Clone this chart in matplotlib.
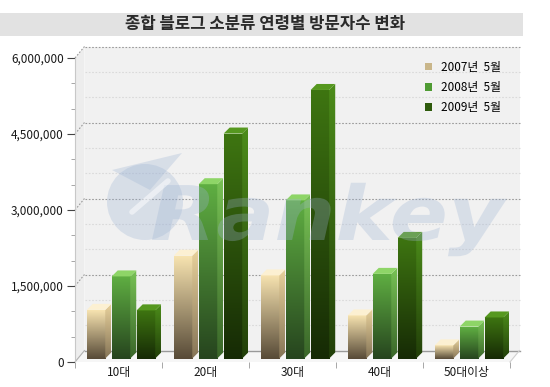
import numpy as np
import matplotlib.pyplot as plt
from matplotlib.patches import Polygon, Rectangle, Circle, Patch, PathPatch
from matplotlib.colors import LinearSegmentedColormap
from matplotlib.ticker import FuncFormatter, MultipleLocator
from matplotlib.textpath import TextPath
from matplotlib.font_manager import FontProperties
from matplotlib.transforms import Affine2D

plt.rcParams['font.family'] = ['Noto Sans CJK KR', 'DejaVu Sans']

title = '종합 블로그 소분류 연령별 방문자수 변화'
categories = ['10대', '20대', '30대', '40대', '50대이상']
series = ['2007년  5월', '2008년  5월', '2009년  5월']
v2007 = [960000, 2030000, 1640000, 850000, 260000]
v2008 = [1620000, 3440000, 3120000, 1670000, 630000]
v2009 = [950000, 4440000, 5300000, 2380000, 810000]
values = [v2007, v2008, v2009]
ymax = 6000000

# colours: (bottom, top) gradients for front and side faces, flat top face
front_cols = [('#574a37', '#f7e3b0'), ('#26441e', '#5fae42'), ('#162a05', '#3e7511')]
side_cols = [('#857456', '#e8d19c'), ('#3a6629', '#78c255'), ('#223f09', '#4c8c1a')]
top_cols = ['#fcf0d2', '#8ed567', '#56981f']
legend_cols = ['#c9b68a', '#4f9b33', '#2e5a0c']

W, H = 550, 387
fig = plt.figure(figsize=(5.5, 3.87), dpi=100)

# title band
fig.patches.append(Rectangle((0, 1 - 36 / H), 523 / W, 23 / H, transform=fig.transFigure,
                             fc='#e2e2e2', ec='none', zorder=0))
fig.text(265 / W, 1 - 24.5 / H, title, ha='center', va='center', fontsize=12,
         fontweight='bold', color='#2a2a2a')

# front plane of the 3d box, in pixels
L, R, B, T = 75, 510, 362, 58
ax = fig.add_axes([L / W, 1 - B / H, (R - L) / W, (B - T) / H])
ax.set_facecolor('none')
ux = 5 / (R - L)
uy = ymax / (B - T)

# walls
wx, wy = 9.5 * ux, 11.5 * uy
ax.add_patch(Polygon([(wx, wy), (5 + wx, wy), (5 + wx, ymax + wy), (wx, ymax + wy)],
                     fc='#f1f1f1', ec='none', zorder=0, clip_on=False))
ax.add_patch(Polygon([(0, 0), (wx, wy), (wx, ymax + wy), (0, ymax)],
                     fc='#ededed', ec='none', zorder=0, clip_on=False))
ax.add_patch(Polygon([(0, 0), (5, 0), (5 + wx, wy), (wx, wy)],
                     fc='#f6f6f6', ec='none', zorder=0, clip_on=False))
ax.plot([wx, 5 + wx], [wy, wy], color='#9a9a9a', lw=1, zorder=0.6, clip_on=False)
ax.plot([0, wx], [0, wy], color='#b0b0b0', lw=0.8, zorder=0.6, clip_on=False)
ax.plot([5, 5 + wx], [0, wy], color='#d0d0d0', lw=0.8, zorder=0.6, clip_on=False)

for v in np.arange(500000, ymax + 1, 500000):
    major = v % 1500000 == 0
    c = '#9a9a9a' if major else '#dadada'
    ax.plot([wx, 5 + wx], [v + wy, v + wy], color=c, lw=0.8, ls=(0, (1.5, 1.5)),
            zorder=0.5, clip_on=False)
    if major:
        ax.plot([0, wx], [v, v + wy], color=c, lw=0.8, ls=(0, (1.5, 1.5)),
                zorder=0.5, clip_on=False)

# bars
gradient = np.linspace(0, 1, 256).reshape(-1, 1)
bw, pitch = 0.213, 0.287
bx, by = 3 * ux, 3.5 * uy
dx, dy = 6 * ux, 6 * uy
for s, vals in enumerate(values):
    cm_front = LinearSegmentedColormap.from_list('front%d' % s, front_cols[s])
    cm_side = LinearSegmentedColormap.from_list('side%d' % s, side_cols[s])
    for i, v in enumerate(vals):
        x0 = i + 0.5 + (s - 1) * pitch - 0.006 - bw / 2 + bx
        y0 = by
        front = Rectangle((x0, y0), bw, v, fc='none', ec='none')
        ax.add_patch(front)
        im = ax.imshow(gradient, extent=[x0, x0 + bw, y0, y0 + v], origin='lower',
                       cmap=cm_front, aspect='auto', zorder=3)
        im.set_clip_path(front)
        side = Polygon([(x0 + bw, y0), (x0 + bw + dx, y0 + dy), (x0 + bw + dx, y0 + v + dy),
                        (x0 + bw, y0 + v)], fc='none', ec='none')
        ax.add_patch(side)
        im = ax.imshow(gradient, extent=[x0 + bw, x0 + bw + dx, y0, y0 + v + dy], origin='lower',
                       cmap=cm_side, aspect='auto', zorder=3)
        im.set_clip_path(side)
        ax.add_patch(Polygon([(x0, y0 + v), (x0 + bw, y0 + v), (x0 + bw + dx, y0 + v + dy),
                              (x0 + dx, y0 + v + dy)], fc=top_cols[s], ec='none', zorder=3))

ax.set_xlim(0, 5)
ax.set_ylim(0, ymax)

# axes and ticks
for sp in ['top', 'right', 'bottom']:
    ax.spines[sp].set_visible(False)
ax.spines['left'].set_color('#c8c8c8')
ax.spines['left'].set_linewidth(0.8)
ax.yaxis.set_major_locator(MultipleLocator(1500000))
ax.yaxis.set_minor_locator(MultipleLocator(500000))
ax.yaxis.set_major_formatter(FuncFormatter(lambda v, p: f'{int(v):,}'))
ax.tick_params(axis='y', which='major', length=6, width=0.8, color='#444444',
               labelsize=8.5, labelcolor='#1a1a1a', pad=2)
ax.tick_params(axis='y', which='minor', length=3, width=0.6, color='#999999')
ax.set_xticks(np.arange(5) + 0.5, categories)
ax.set_xticks(np.arange(6), minor=True)
ax.tick_params(axis='x', which='major', length=0, labelsize=8.5, labelcolor='#1a1a1a', pad=3)
ax.tick_params(axis='x', which='minor', length=4, width=0.6, color='#999999')

handles = [Patch(fc=c, ec='none') for c in legend_cols]
ax.legend(handles, series, loc='upper right', bbox_to_anchor=(512 / W, 1 - 50 / H),
          bbox_transform=fig.transFigure, frameon=False, fontsize=8.5, handlelength=0.6,
          handleheight=0.6, handletextpad=0.8, labelspacing=0.62)

# watermark
deco = fig.add_axes([0, 0, 1, 1], zorder=5)
deco.set_xlim(0, W)
deco.set_ylim(H, 0)
deco.axis('off')
deco.patch.set_alpha(0)
wm = '#9db3d3'
deco.add_patch(Circle((145, 202), 38, fc=wm, ec='none', alpha=0.3))
deco.add_patch(Polygon([(112, 170), (182, 153), (150, 190)], fc=wm, ec='none', alpha=0.3))
deco.plot([132, 168], [212, 181], color='white', lw=4, alpha=0.5, solid_capstyle='round')
tp = TextPath((0, 0), 'Rankey', size=1,
              prop=FontProperties(family='DejaVu Sans', weight='bold', style='italic'))
ext = tp.get_extents()
sx = 355 / ext.width
sy = 55 / 0.73
deco.add_patch(PathPatch(tp, transform=Affine2D().scale(sx, -sy).translate(152 - ext.x0 * sx, 240)
                         + deco.transData, fc=wm, ec='none', alpha=0.3))

fig.savefig('out.png', dpi=100)
